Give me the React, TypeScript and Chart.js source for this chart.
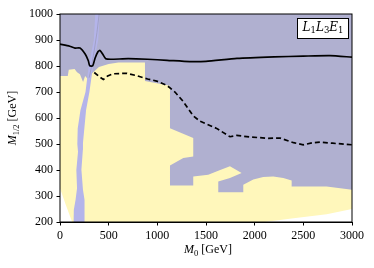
import React, { useEffect, useRef } from "react";
import { Chart, registerables } from "chart.js";

Chart.register(...registerables);

// ---------- data ----------
const m0Min = 0;
const m0Max = 3000;
const mHalfMin = 200;
const mHalfMax = 1000;
const m0Step = 500;
const mHalfStep = 100;

// excluded region (purple) – whole plane underneath
const excludedRegion: [number, number][] = [
  [0, 200], [3000, 200], [3000, 1000], [0, 1000],
];

// allowed region (yellow)
const allowedRegion: [number, number][] = [
  [0, 200], [0, 762], [80, 762], [90, 786], [150, 788], [175, 776], [205, 768],
  [237, 738], [258, 762], [290, 748], [330, 772], [400, 796], [500, 808],
  [600, 813], [873, 813], [873, 742], [1130, 724], [1130, 561], [1369, 523],
  [1369, 452], [1267, 446], [1130, 417], [1130, 340], [1369, 340], [1369, 375],
  [1523, 382], [1626, 397], [1746, 414], [1866, 388], [1746, 369], [1626, 356],
  [1626, 314], [1883, 314], [1883, 343], [1986, 363], [2088, 373], [2191, 375],
  [2294, 369], [2380, 360], [2380, 337], [2739, 337], [3000, 324], [3000, 200],
];

// no-solution regions (white)
const emptyLeftRegion: [number, number][] = [
  [0, 200], [0, 330], [60, 265], [125, 200],
];
const emptyRightRegion: [number, number][] = [
  [2100, 200], [2400, 214], [2740, 230], [3000, 250], [3000, 200],
];

// light blue strip
const stripRegion: [number, number][] = [
  [362, 1000], [348, 900], [295, 800], [262, 700], [210, 630], [182, 560],
  [178, 500], [185, 470], [168, 400], [175, 330], [160, 286], [142, 247], [140, 200],
  [250, 200], [254, 247], [250, 286], [236, 324], [220, 401], [235, 478],
  [236, 504], [250, 560], [268, 631], [302, 700], [340, 800], [392, 900], [408, 1000],
];

// thin contour inside the strip
const stripContour: [number, number][] = [
  [402, 1000], [380, 930], [352, 860], [325, 800], [300, 755],
];

// solid limit line
const solidLine: [number, number][] = [
  [0, 884], [100, 876], [154, 869], [205, 869], [260, 845], [291, 820],
  [305, 801], [336, 801], [360, 830], [390, 855], [411, 860], [440, 845],
  [470, 828], [520, 826], [700, 828], [900, 826], [1100, 822], [1335, 817],
  [1500, 818], [1818, 829], [2200, 835], [2500, 838], [2773, 840], [3000, 834],
];

// dashed limit line
const dashedLine: [number, number][] = [
  [352, 775], [400, 760], [445, 748], [490, 762], [545, 770], [685, 772],
  [788, 763], [900, 750], [993, 742], [1100, 725], [1181, 700], [1263, 665],
  [1369, 608], [1438, 588], [1609, 560], [1746, 528], [1815, 533], [1951, 527],
  [2137, 522], [2260, 523], [2400, 505], [2499, 497], [2600, 505], [2670, 507],
  [2800, 503], [3000, 497],
];

const xTitle = ["M", "0", " [GeV]"];
const yTitle = ["M", "1/2", " [GeV]"];
const legendText = ["L", "1", "L", "3", "E", "1"];

// ---------- styling ----------
const PURPLE = "rgb(176,176,208)";
const YELLOW = "rgb(255,247,187)";
const STRIP = "rgb(180,180,234)";
const SERIF = "'Liberation Serif', 'DejaVu Serif', serif";

const toPts = (arr: [number, number][]) => arr.map(([x, y]) => ({ x, y }));

function polygon(label: string, pts: [number, number][], color: string, order: number) {
  return {
    label,
    data: toPts(pts),
    borderWidth: 0,
    borderColor: "rgba(0,0,0,0)",
    backgroundColor: color,
    fill: "shape",
    pointRadius: 0,
    tension: 0,
    order,
  };
}

type Run = { text: string; font: string; dy?: number };

function drawRuns(ctx: CanvasRenderingContext2D, runs: Run[], x: number, y: number) {
  let w = 0;
  for (const r of runs) {
    ctx.font = r.font;
    w += ctx.measureText(r.text).width;
  }
  let cx = x - w / 2;
  ctx.textAlign = "left";
  ctx.textBaseline = "alphabetic";
  for (const r of runs) {
    ctx.font = r.font;
    ctx.fillText(r.text, cx, y + (r.dy || 0));
    cx += ctx.measureText(r.text).width;
  }
}

const decorPlugin = {
  id: "decor",
  afterDraw(chart: any) {
    const { ctx, chartArea: ca } = chart;
    ctx.save();
    // frame
    ctx.strokeStyle = "#000";
    ctx.lineWidth = 1;
    ctx.strokeRect(ca.left, ca.top, ca.right - ca.left, ca.bottom - ca.top);
    ctx.fillStyle = "#000";
    // x title
    drawRuns(
      ctx,
      [
        { text: xTitle[0], font: `italic 12px ${SERIF}` },
        { text: xTitle[1], font: `8.5px ${SERIF}`, dy: 2.5 },
        { text: xTitle[2], font: `12px ${SERIF}` },
      ],
      (ca.left + ca.right) / 2 + 2,
      253
    );
    // y title
    ctx.save();
    ctx.translate(16, (ca.top + ca.bottom) / 2);
    ctx.rotate(-Math.PI / 2);
    drawRuns(
      ctx,
      [
        { text: yTitle[0], font: `italic 12px ${SERIF}` },
        { text: yTitle[1], font: `8.5px ${SERIF}`, dy: 2.5 },
        { text: yTitle[2], font: `12px ${SERIF}` },
      ],
      0,
      0
    );
    ctx.restore();
    // legend box
    const bx = 297.5, by = 18.5, bw = 51, bh = 20;
    ctx.fillStyle = "#fff";
    ctx.fillRect(bx, by, bw, bh);
    ctx.strokeStyle = "#000";
    ctx.lineWidth = 1;
    ctx.strokeRect(bx, by, bw, bh);
    ctx.fillStyle = "#000";
    const big = `italic 12px 'DejaVu Serif', serif`;
    const sub = `8.5px 'DejaVu Serif', serif`;
    drawRuns(
      ctx,
      legendText.map((t, i) => (i % 2 === 0 ? { text: t, font: big } : { text: t, font: sub, dy: 2.5 })),
      bx + bw / 2,
      by + 12
    );
    ctx.restore();
  },
};

export default function App() {
  const ref = useRef<HTMLCanvasElement | null>(null);

  useEffect(() => {
    if (!ref.current) return;
    const tickFont = { family: SERIF, size: 12 };
    const chart = new Chart(ref.current, {
      type: "line",
      data: {
        datasets: [
          {
            label: "dashed",
            data: toPts(dashedLine),
            borderColor: "#000",
            borderWidth: 1.7,
            borderDash: [5, 3],
            fill: false,
            pointRadius: 0,
            tension: 0,
            order: 1,
          },
          {
            label: "solid",
            data: toPts(solidLine),
            borderColor: "#000",
            borderWidth: 1.7,
            fill: false,
            pointRadius: 0,
            tension: 0.2,
            order: 2,
          },
          {
            label: "stripContour",
            data: toPts(stripContour),
            borderColor: "rgba(150,150,180,0.8)",
            borderWidth: 0.8,
            fill: false,
            pointRadius: 0,
            tension: 0,
            order: 4,
          },
          polygon("strip", stripRegion, STRIP, 5),
          polygon("emptyLeft", emptyLeftRegion, "#fff", 6),
          polygon("emptyRight", emptyRightRegion, "#fff", 7),
          polygon("allowed", allowedRegion, YELLOW, 8),
          polygon("excluded", excludedRegion, PURPLE, 9),
        ] as any,
      },
      options: {
        responsive: false,
        maintainAspectRatio: false,
        animation: false,
        events: [],
        layout: { padding: { left: 0, right: 22, top: 14, bottom: 0 } },
        plugins: { legend: { display: false }, tooltip: { enabled: false } },
        scales: {
          x: {
            type: "linear",
            min: m0Min,
            max: m0Max,
            ticks: {
              stepSize: m0Step,
              color: "#000",
              font: tickFont,
              padding: 3,
              maxRotation: 0,
              autoSkip: false,
              callback: (v: any) => String(v),
            },
            grid: { drawOnChartArea: false, drawTicks: true, tickLength: 3.5, color: "#000" },
            border: { display: true, color: "#000", width: 1 },
            afterFit: (s: any) => {
              s.height = 46;
            },
          },
          y: {
            type: "linear",
            min: mHalfMin,
            max: mHalfMax,
            ticks: {
              stepSize: mHalfStep,
              color: "#000",
              font: tickFont,
              padding: 3.5,
              autoSkip: false,
              callback: (v: any) => String(v),
            },
            grid: { drawOnChartArea: false, drawTicks: true, tickLength: 3.5, color: "#000" },
            border: { display: true, color: "#000", width: 1 },
            afterFit: (s: any) => {
              s.width = 60;
            },
          },
        },
      } as any,
      plugins: [decorPlugin],
    });
    return () => chart.destroy();
  }, []);

  return (
    <div style={{ position: "absolute", left: 0, top: 0, width: 374, height: 268, background: "#fff" }}>
      <canvas ref={ref} width={374} height={268} style={{ width: 374, height: 268 }} />
    </div>
  );
}
